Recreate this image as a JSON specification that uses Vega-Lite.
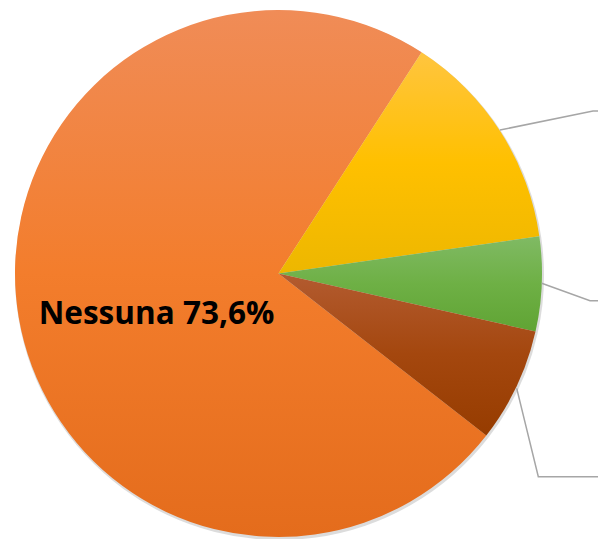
{
  "$schema": "https://vega.github.io/schema/vega-lite/v6.json",
  "width": 557,
  "height": 531,
  "autosize": {"type": "none"},
  "padding": {"left": 0, "right": 41, "top": 8, "bottom": 0},
  "background": "white",
  "config": {"view": {"stroke": null}},
  "datasets": {
    "slices": [
      {"cat": "Giallo", "order": 1, "value": 13.6},
      {"cat": "Verde", "order": 2, "value": 5.8},
      {"cat": "Marrone", "order": 3, "value": 7.0},
      {"cat": "Nessuna", "order": 4, "value": 73.6}
    ],
    "lines": [
      {"line": "a", "ord": 0, "x": 0.8406, "y": 0.5446},
      {"line": "a", "ord": 1, "x": 1.1936, "y": 0.6167},
      {"line": "a", "ord": 2, "x": 1.25, "y": 0.6167},
      {"line": "b", "ord": 0, "x": 0.9989, "y": -0.0372},
      {"line": "b", "ord": 1, "x": 1.1822, "y": -0.1032},
      {"line": "b", "ord": 2, "x": 1.25, "y": -0.1032},
      {"line": "c", "ord": 0, "x": 0.904, "y": -0.4357},
      {"line": "c", "ord": 1, "x": 0.986, "y": -0.7712},
      {"line": "c", "ord": 2, "x": 1.25, "y": -0.7712}
    ],
    "labels": [
      {"text": "Nessuna 73,6%", "x": -0.463, "y": -0.158}
    ]
  },
  "layer": [
    {
      "data": {"name": "slices"},
      "transform": [
        {"stack": "value", "groupby": [], "sort": [{"field": "order", "order": "ascending"}], "as": ["v0", "v1"]}
      ],
      "mark": {"type": "arc", "outerRadius": 264.5, "fill": "#9a9a9a", "opacity": 0.35, "xOffset": 1, "yOffset": 2},
      "encoding": {
        "theta": {"field": "v0", "type": "quantitative", "scale": {"domain": [0, 100], "range": [0.5742, 6.8574]}},
        "theta2": {"field": "v1"}
      }
    },
    {
      "data": {"name": "slices"},
      "transform": [
        {"stack": "value", "groupby": [], "sort": [{"field": "order", "order": "ascending"}], "as": ["v0", "v1"]},
        {"filter": "datum.cat === 'Nessuna'"}
      ],
      "mark": {"type": "arc", "outerRadius": 263.5, "fill": {"gradient": "linear", "x1": 0, "y1": 0, "x2": 0, "y2": 1, "stops": [{"offset": 0, "color": "#F08C57"}, {"offset": 0.5, "color": "#F37D2C"}, {"offset": 1, "color": "#E46C1C"}]}},
      "encoding": {
        "theta": {"field": "v0", "type": "quantitative", "scale": {"domain": [0, 100], "range": [0.5742, 6.8574]}},
        "theta2": {"field": "v1"}
      }
    },
    {
      "data": {"name": "slices"},
      "transform": [
        {"stack": "value", "groupby": [], "sort": [{"field": "order", "order": "ascending"}], "as": ["v0", "v1"]},
        {"filter": "datum.cat === 'Giallo'"}
      ],
      "mark": {"type": "arc", "outerRadius": 263.5, "fill": {"gradient": "linear", "x1": 0, "y1": 0, "x2": 0, "y2": 1, "stops": [{"offset": 0, "color": "#FFC53F"}, {"offset": 0.5, "color": "#FFC000"}, {"offset": 1, "color": "#EDB700"}]}},
      "encoding": {
        "theta": {"field": "v0", "type": "quantitative", "scale": {"domain": [0, 100], "range": [0.5742, 6.8574]}},
        "theta2": {"field": "v1"}
      }
    },
    {
      "data": {"name": "slices"},
      "transform": [
        {"stack": "value", "groupby": [], "sort": [{"field": "order", "order": "ascending"}], "as": ["v0", "v1"]},
        {"filter": "datum.cat === 'Verde'"}
      ],
      "mark": {"type": "arc", "outerRadius": 263.5, "fill": {"gradient": "linear", "x1": 0, "y1": 0, "x2": 0, "y2": 1, "stops": [{"offset": 0, "color": "#80BA64"}, {"offset": 0.5, "color": "#6EB045"}, {"offset": 1, "color": "#60A434"}]}},
      "encoding": {
        "theta": {"field": "v0", "type": "quantitative", "scale": {"domain": [0, 100], "range": [0.5742, 6.8574]}},
        "theta2": {"field": "v1"}
      }
    },
    {
      "data": {"name": "slices"},
      "transform": [
        {"stack": "value", "groupby": [], "sort": [{"field": "order", "order": "ascending"}], "as": ["v0", "v1"]},
        {"filter": "datum.cat === 'Marrone'"}
      ],
      "mark": {"type": "arc", "outerRadius": 263.5, "fill": {"gradient": "linear", "x1": 0, "y1": 0, "x2": 0, "y2": 1, "stops": [{"offset": 0, "color": "#B35B30"}, {"offset": 0.5, "color": "#A4470E"}, {"offset": 1, "color": "#963C00"}]}},
      "encoding": {
        "theta": {"field": "v0", "type": "quantitative", "scale": {"domain": [0, 100], "range": [0.5742, 6.8574]}},
        "theta2": {"field": "v1"}
      }
    },
    {
      "data": {"name": "lines"},
      "mark": {"type": "line", "color": "#A6A6A6", "strokeWidth": 1.5},
      "encoding": {
        "x": {"field": "x", "type": "quantitative", "scale": {"domain": [-1.0569, 1.0569], "nice": false, "zero": false}, "axis": null},
        "y": {"field": "y", "type": "quantitative", "scale": {"domain": [-1.00759, 1.00759], "nice": false, "zero": false}, "axis": null},
        "detail": {"field": "line"},
        "order": {"field": "ord", "type": "quantitative"}
      }
    },
    {
      "data": {"name": "labels"},
      "mark": {"type": "text", "font": "Open Sans", "fontWeight": "bold", "fontSize": 31.5, "color": "#000000", "align": "center", "baseline": "middle"},
      "encoding": {
        "x": {"field": "x", "type": "quantitative", "scale": {"domain": [-1.0569, 1.0569], "nice": false, "zero": false}, "axis": null},
        "y": {"field": "y", "type": "quantitative", "scale": {"domain": [-1.00759, 1.00759], "nice": false, "zero": false}, "axis": null},
        "text": {"field": "text"}
      }
    }
  ]
}
